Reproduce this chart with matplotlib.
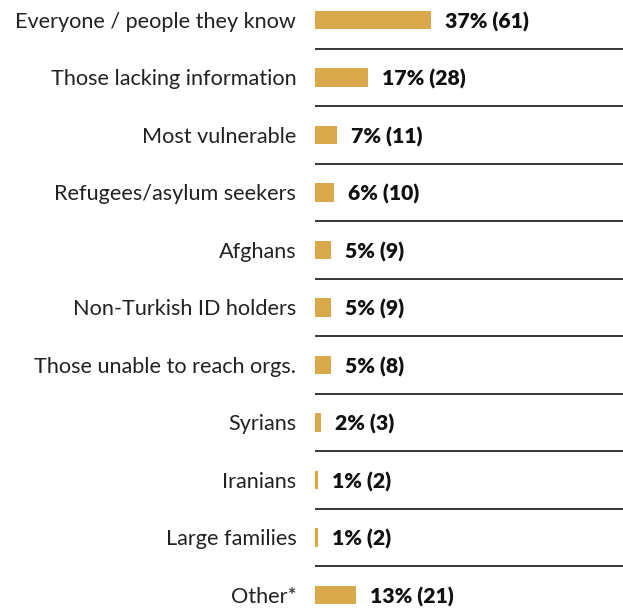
import matplotlib
matplotlib.use("Agg")
import matplotlib.pyplot as plt

categories = ["Everyone / people they know", "Those lacking information", "Most vulnerable",
              "Refugees/asylum seekers", "Afghans", "Non-Turkish ID holders",
              "Those unable to reach orgs.", "Syrians", "Iranians", "Large families", "Other*"]
percents = [37, 17, 7, 6, 5, 5, 5, 2, 1, 1, 13]
counts = [61, 28, 11, 10, 9, 9, 8, 3, 2, 2, 21]

plt.rcParams['font.family'] = ['Lato', 'DejaVu Sans']
W, H = 623, 608
fig = plt.figure(figsize=(W/100, H/100), dpi=100)
ax = fig.add_axes([315/W, 0, (W-315)/W, 1])
color = "#D8AA4B"
ys = list(range(len(categories)))
ax.barh(ys, percents, height=0.33, color=color, left=0)
ax.set_xlim(0, (W-315)/3.13)
ax.set_ylim((H-20)/57.5, -20/57.5)
for i in range(len(categories)-1):
    ax.axhline(i+0.5, color="black", lw=1.1)
for y, cat, p, c in zip(ys, categories, percents, counts):
    ax.annotate(cat, (0, y), xytext=(-13.5, -1.2), textcoords="offset points",
                ha="right", va="center", fontsize=15.6, color="#222222")
    ax.annotate(f"{p}% ({c})", (p, y), xytext=(10, -1.2), textcoords="offset points",
                ha="left", va="center", fontsize=15.2, fontweight="heavy", color="#111111")
ax.axis("off")
fig.savefig("out.png", dpi=100)
